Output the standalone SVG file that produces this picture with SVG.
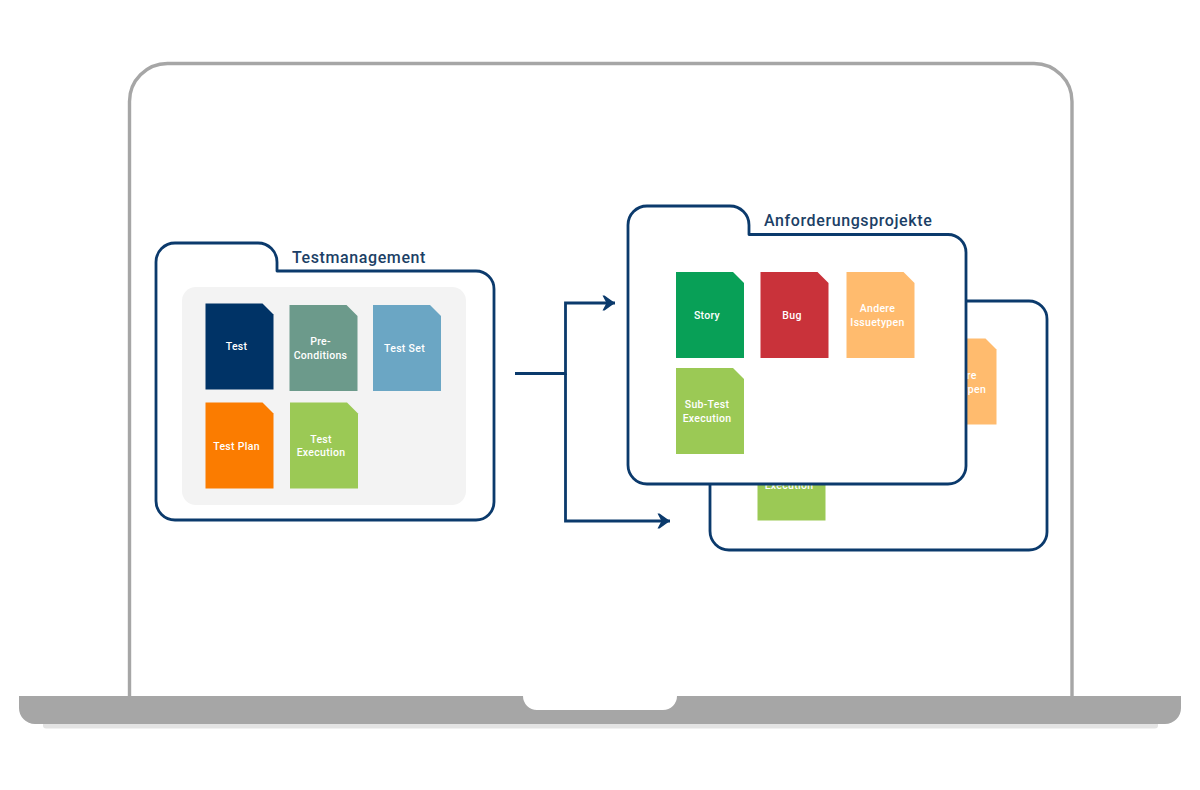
<svg xmlns="http://www.w3.org/2000/svg" width="1200" height="790" viewBox="0 0 1200 790">
<style>
.folder{fill:#fff;stroke:#0b3a6c;stroke-width:2.8;stroke-linejoin:round}
.conn{fill:none;stroke:#0b3a6c;stroke-width:2.8}
.title{font-family:"Roboto","Liberation Sans",sans-serif;font-size:16px;font-weight:500;fill:#1c3f66;letter-spacing:.6px}
.lbl{font-family:"Roboto","Liberation Sans",sans-serif;font-size:10.5px;font-weight:500;fill:#fff;text-anchor:middle;letter-spacing:.3px}
</style>
<defs>
<path id="doc" d="M0 0H57L68 11V86H0Z"/>
<marker id="arr" viewBox="0 0 16 16" refX="14" refY="8" markerWidth="16" markerHeight="16" markerUnits="userSpaceOnUse" orient="auto"><path d="M1.500 .5L3.500 .5L14 8L3.500 15.500L1.500 15.500L5.500 8Z" fill="#0b3a6c"/></marker>
</defs>
<rect width="1200" height="790" fill="#fff"/>
<g id="laptop">
<path d="M129.500 697V102A38 38 0 0 1 167.500 63.500H1034A38 38 0 0 1 1072 102V697" fill="#fff" stroke="#a6a6a6" stroke-width="3.400"/>
<rect x="43" y="720" width="1115" height="8.500" rx="3" fill="#e3e3e3"/>
<path d="M19 696H523A14 14 0 0 0 537 710H663A14 14 0 0 0 677 696H1181V708A16 16 0 0 1 1165 724H35A16 16 0 0 1 19 708Z" fill="#a6a6a6"/>
</g>
<g id="connectors">
<path class="conn" d="M515 373.500H565.500V303H615" marker-end="url(#arr)"/>
<path class="conn" d="M565.500 373.500V521H670" marker-end="url(#arr)"/>
</g>
<g id="testmanagement">
<path class="folder" d="M156 262A19 19 0 0 1 175 243H258A19 19 0 0 1 277 262V271H476A18 18 0 0 1 494 289V502A18 18 0 0 1 476 520H175A19 19 0 0 1 156 501Z"/>
<text class="title" x="292" y="263">Testmanagement</text>
<rect x="182" y="287" width="284" height="218" rx="14" fill="#f3f3f3"/>
</g>
<g id="test"><use href="#doc" x="205.500" y="303.500" fill="#003366"/><text class="lbl" x="236.500" y="350">Test</text></g>
<g id="pre-conditions"><use href="#doc" x="289.500" y="305" fill="#6c9a8b"/><text class="lbl" x="320.500" y="345">Pre-</text><text class="lbl" x="320.500" y="359">Conditions</text></g>
<g id="test-set"><use href="#doc" x="373" y="305" fill="#6ba6c4"/><text class="lbl" x="404.500" y="352">Test Set</text></g>
<g id="test-plan"><use href="#doc" x="205.500" y="402.500" fill="#fb7c00"/><text class="lbl" x="236.500" y="450">Test Plan</text></g>
<g id="test-execution"><use href="#doc" x="290" y="402.500" fill="#9bc955"/><text class="lbl" x="321" y="443">Test</text><text class="lbl" x="321" y="456">Execution</text></g>
<g id="back-folder">
<path class="folder" d="M710 320A19 19 0 0 1 729 301H1029A18 18 0 0 1 1047 319V532A18 18 0 0 1 1029 550H729A19 19 0 0 1 710 531Z"/>
<use href="#doc" x="928.500" y="338.500" fill="#ffbb6e"/>
<text class="lbl" x="959" y="379">Andere</text><text class="lbl" x="959" y="393">Issuetypen</text>
<use href="#doc" x="757.500" y="434.500" fill="#9bc955"/>
<text class="lbl" x="789" y="488.500">Execution</text>
</g>
<g id="anforderungsprojekte">
<path class="folder" d="M628 225A19 19 0 0 1 647 206H730A19 19 0 0 1 749 225V234.500H948A18 18 0 0 1 966 252.500V466A18 18 0 0 1 948 484H647A19 19 0 0 1 628 465Z"/>
<text class="title" x="764" y="226">Anforderungsprojekte</text>
</g>
<g id="story"><use href="#doc" x="676" y="272" fill="#08a057"/><text class="lbl" x="707" y="319">Story</text></g>
<g id="bug"><use href="#doc" x="760.500" y="272" fill="#c9323a"/><text class="lbl" x="792" y="319">Bug</text></g>
<g id="andere-issuetypen"><use href="#doc" x="846.500" y="272" fill="#ffbb6e"/><text class="lbl" x="877.500" y="312">Andere</text><text class="lbl" x="877.500" y="326">Issuetypen</text></g>
<g id="sub-test-execution"><use href="#doc" x="676" y="368" fill="#9bc955"/><text class="lbl" x="707" y="408">Sub-Test</text><text class="lbl" x="707" y="422">Execution</text></g>
</svg>
